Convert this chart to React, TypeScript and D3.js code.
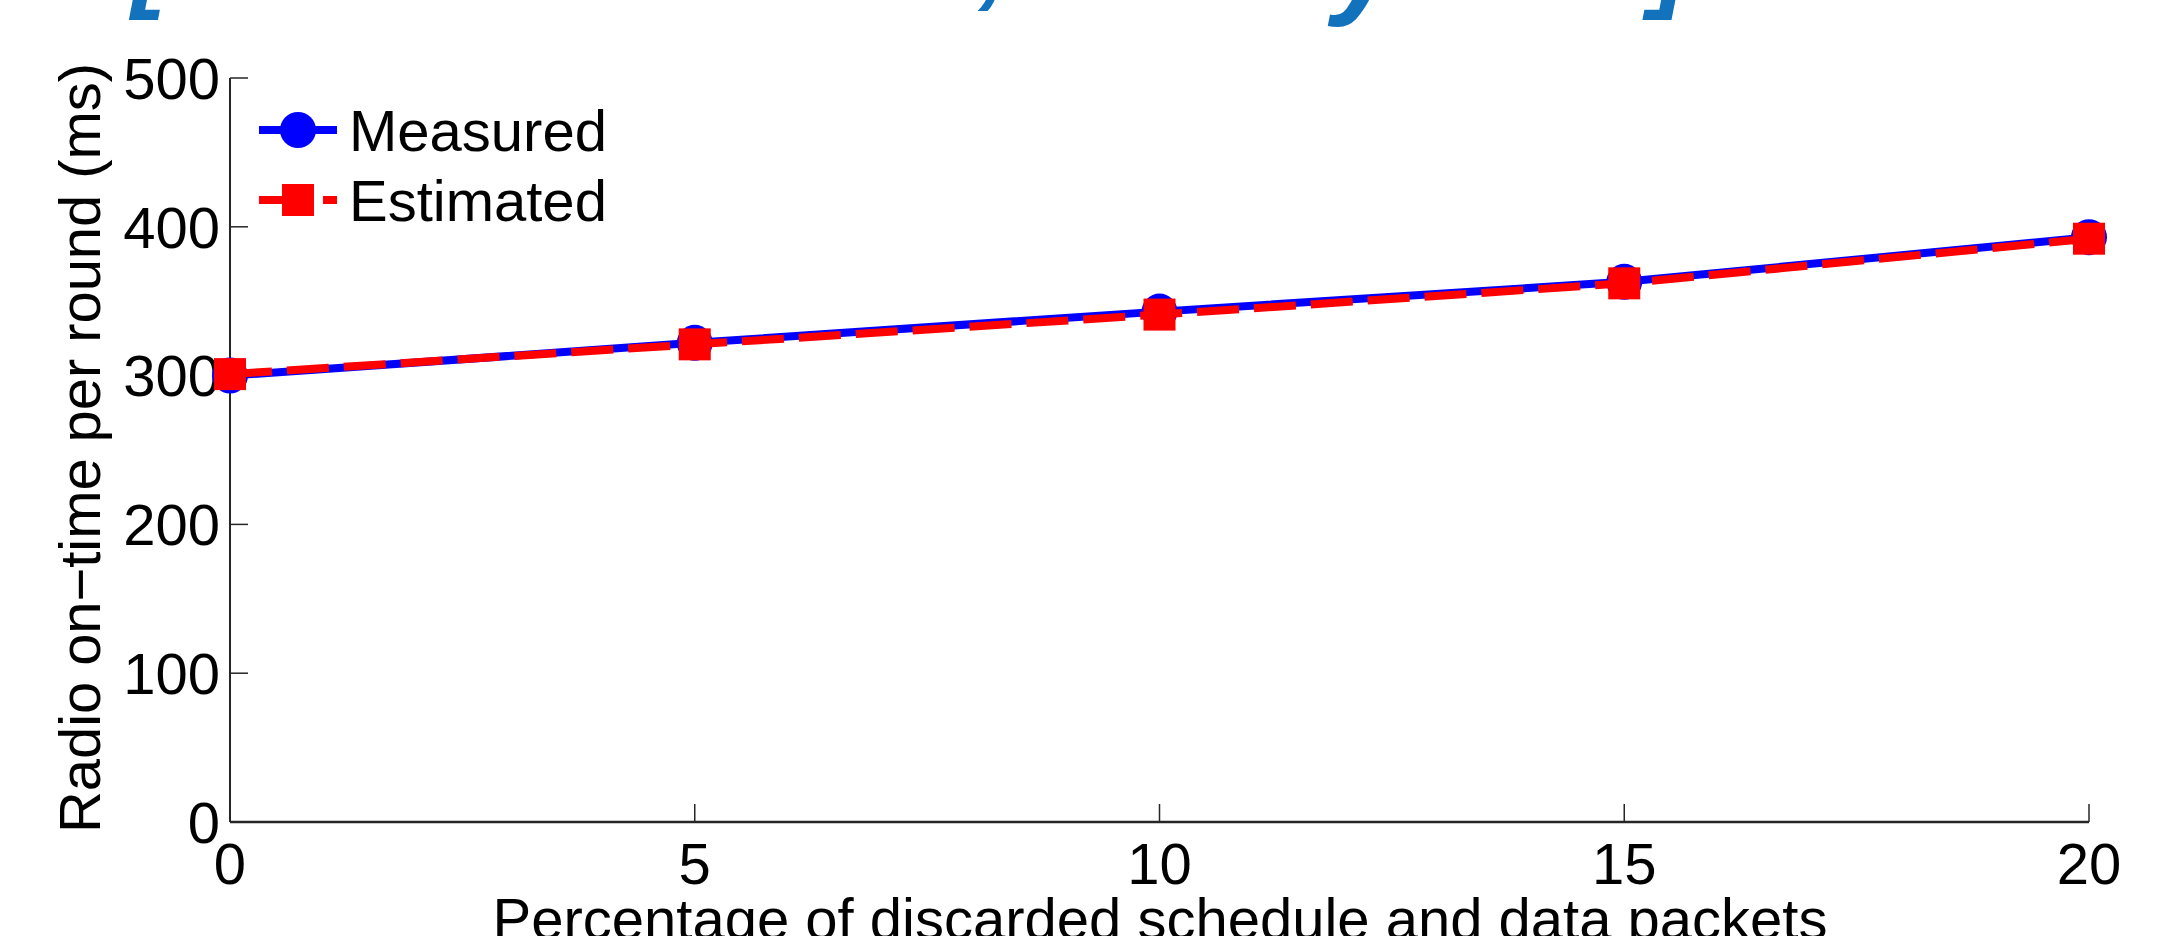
import React from "react";
import * as d3 from "d3";

const xValues = [0, 5, 10, 15, 20];
const measured = [300, 322, 343, 363, 393];
const estimated = [301, 321, 341, 362, 392];
const xTicks = [0, 5, 10, 15, 20];
const yTicks = [0, 100, 200, 300, 400, 500];
const seriesNames = ["Measured", "Estimated"];
const xLabel = "Percentage of discarded schedule and data packets";
const yLabel = "Radio on\u2212time per round (ms)";
// fragments of cropped slide text above the figure
const topGlyphs = [
  { ch: "/", x: 52, y: -4, size: 110 },
  { ch: "[", x: 150, y: -3, size: 110 },
  { ch: ",", x: 994, y: -6, size: 110 },
  { ch: "y", x: 1366, y: 2, size: 120 },
  { ch: "]", x: 1670, y: -3, size: 110 },
];

const W = 2184;
const H = 936;
const M = { left: 230, right: 2089, top: 78, bottom: 822 };
const FONT = "'Liberation Sans', Arial, Helvetica, sans-serif";
const AXIS = "#262626";

export default function App() {
  const x = d3.scaleLinear().domain([0, 20]).range([M.left, M.right]);
  const y = d3.scaleLinear().domain([0, 500]).range([M.bottom, M.top]);
  const line = d3
    .line<number>()
    .x((_, i) => x(xValues[i]))
    .y((d) => y(d));
  const sq = 32;
  const r = 18;

  return (
    <svg
      width={W}
      height={H}
      style={{ position: "absolute", left: 0, top: 0, background: "#fff" }}
      fontFamily={FONT}
    >
      <rect x={0} y={0} width={W} height={H} fill="#fff" />
      {topGlyphs.map((g, i) => (
        <text
          key={i}
          x={g.x}
          y={g.y}
          fontSize={g.size}
          fontStyle="italic"
          fontWeight="bold"
          fill="#1372BC"
          textAnchor="middle"
        >
          {g.ch}
        </text>
      ))}

      {/* axes */}
      <line x1={M.left} x2={M.left} y1={M.top} y2={M.bottom} stroke={AXIS} strokeWidth={2} />
      <line x1={M.left} x2={M.right} y1={M.bottom} y2={M.bottom} stroke={AXIS} strokeWidth={2.5} />
      {yTicks.map((t) => (
        <g key={"y" + t}>
          <line x1={M.left} x2={M.left + 18} y1={y(t)} y2={y(t)} stroke={AXIS} strokeWidth={1.5} />
          <text x={M.left - 10} y={y(t)} dy="0.36em" fontSize={58} textAnchor="end" fill="#000">
            {t}
          </text>
        </g>
      ))}
      {xTicks.map((t) => (
        <g key={"x" + t}>
          <line x1={x(t)} x2={x(t)} y1={M.bottom} y2={M.bottom - 18} stroke={AXIS} strokeWidth={1.5} />
          <text x={x(t)} y={884} fontSize={58} textAnchor="middle" fill="#000">
            {t}
          </text>
        </g>
      ))}
      <text x={1160} y={939} fontSize={58} textAnchor="middle" fill="#000">
        {xLabel}
      </text>
      <text
        transform={`translate(100,448) rotate(-90)`}
        fontSize={58}
        textAnchor="middle"
        fill="#000"
        textLength={770}
        lengthAdjust="spacing"
      >
        {yLabel}
      </text>

      {/* Measured */}
      <path d={line(measured) || ""} fill="none" stroke="#0000ff" strokeWidth={8} />
      {measured.map((v, i) => (
        <circle key={"m" + i} cx={x(xValues[i])} cy={y(v)} r={r} fill="#0000ff" />
      ))}
      {/* Estimated */}
      <path
        d={line(estimated) || ""}
        fill="none"
        stroke="#ff0000"
        strokeWidth={8}
        strokeDasharray="42 15"
      />
      {estimated.map((v, i) => (
        <rect
          key={"e" + i}
          x={x(xValues[i]) - sq / 2}
          y={y(v) - sq / 2}
          width={sq}
          height={sq}
          fill="#ff0000"
        />
      ))}

      {/* legend */}
      <g>
        <line x1={259} x2={337} y1={130} y2={130} stroke="#0000ff" strokeWidth={8} />
        <circle cx={298} cy={130} r={r} fill="#0000ff" />
        <text x={349} y={151} fontSize={58} fill="#000">
          {seriesNames[0]}
        </text>
        <line x1={259} x2={337} y1={200} y2={200} stroke="#ff0000" strokeWidth={8} strokeDasharray="23 9" />
        <rect x={298 - 16} y={200 - 16} width={32} height={32} fill="#ff0000" />
        <text x={349} y={221} fontSize={58} fill="#000">
          {seriesNames[1]}
        </text>
      </g>
    </svg>
  );
}
